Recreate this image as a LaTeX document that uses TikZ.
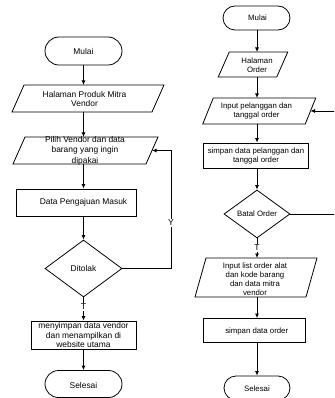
\documentclass[tikz,border=0pt]{standalone}
\usepackage{fontspec}
\setmainfont{Liberation Sans}
\usetikzlibrary{shapes.geometric,arrows.meta,calc}
\newcommand{\paraline}[2]{%
  \draw[shp] ([xshift=#2]#1.north west) -- ([xshift=#2]#1.north east) -- ([xshift=-#2]#1.south east) -- ([xshift=-#2]#1.south west) -- cycle;}
\begin{document}
\begin{tikzpicture}[x=1pt,y=-1pt,
  shp/.style={draw=black, line width=0.8pt},
  term/.style={shp, rectangle, inner sep=0pt},
  boxnode/.style={shp, rectangle, inner sep=0pt},
  para/.style={rectangle, draw=none, inner sep=0pt, outer sep=0pt},
  dec/.style={shp, diamond, inner sep=0pt},
  txtL/.style={font=\fontsize{8.4}{9.8}\selectfont, align=center, inner sep=0pt},
  txtR/.style={font=\fontsize{7.8}{9.0}\selectfont, align=center, inner sep=0pt},
  lbl/.style={fill=white, inner sep=0.8pt, font=\fontsize{8.6}{9}\selectfont},
  arr/.style={line width=0.8pt, -{Latex[length=4.5pt,width=4pt]}},
  ln/.style={line width=0.8pt}]
\useasboundingbox (0,0) rectangle (334,398);
\clip (0,0) rectangle (334,398);
\coordinate (axL) at (83.5,0);
\coordinate (axR) at (257,0);
% ---------- left flowchart ----------
\node[term, minimum width=77pt, minimum height=28pt, rounded corners=14pt] (mulaiL) at (83.5,51) {};
\node[txtL] (mulaiLt) at (mulaiL) {Mulai};
\node[para, minimum width=140pt, minimum height=27pt] (halL) at (88,98.5) {};
\paraline{halL}{6pt}
\node[txtL] (halLt) at (84.5,99) {Halaman Produk Mitra\\Vendor};
\node[para, minimum width=133pt, minimum height=27pt] (pilihL) at (85.5,150.5) {};
\paraline{pilihL}{6pt}
\node[txtL, font=\fontsize{8.4}{10.4}\selectfont] (pilihLt) at (85,150.5) {Pilih Vendor dan data\\barang yang ingin\\dipakai};
\node[boxnode, minimum width=120pt, minimum height=27pt] (dataL) at (76,202.5) {};
\node[txtL] (dataLt) at (83.5,202.5) {Data Pengajuan Masuk};
\node[dec, minimum width=77pt, minimum height=57pt] (tolak) at (83.5,268.5) {};
\node[txtL] (tolakt) at (tolak) {Ditolak};
\node[boxnode, minimum width=105pt, minimum height=28pt] (simpanL) at (83.5,335) {};
\node[txtL] (simpanLt) at (83.5,335) {menyimpan data vendor\\dan menampilkan di\\website utama};
\node[term, minimum width=77pt, minimum height=27pt, rounded corners=13.5pt] (selesaiL) at (83.5,384) {};
\node[txtL] (selesaiLt) at (83.5,385) {Selesai};
% connectors left
\draw[arr] (mulaiL.south -| axL) -- (halL.north -| axL);
\draw[arr] (halL.south -| axL) -- (pilihL.north -| axL);
\draw[arr] (pilihL.south -| axL) -- (dataL.north -| axL);
\draw[arr] (dataL.south -| axL) -- (tolak.north);
\draw[arr] (tolak.south) -- (simpanL.north);
\draw[arr] (simpanL.south) -- (selesaiL.north);
\coordinate (fbL) at (171,268.5);
\draw[arr] (tolak.east) -- (fbL) |- (pilihL.east);
\node[lbl] (yL) at (171,223) {Y};
\node[lbl] (tL) at (83.5,307) {T};
% ---------- right flowchart ----------
\node[term, minimum width=67pt, minimum height=24pt, rounded corners=12pt] (mulaiR) at (256.5,18) {};
\node[txtR] (mulaiRt) at (257.5,18) {Mulai};
\node[para, minimum width=58.5pt, minimum height=25pt] (halR) at (253,64.5) {};
\paraline{halR}{5.5pt}
\node[txtR] (halRt) at (257,65.5) {Halaman\\Order};
\node[para, minimum width=102.5pt, minimum height=26pt] (inR) at (259.25,111) {};
\paraline{inR}{5.25pt}
\node[txtR] (inRt) at (256.5,110.5) {Input pelanggan dan\\tanggal order};
\node[boxnode, minimum width=105pt, minimum height=25pt] (simR) at (255.5,155.5) {};
\node[txtR] (simRt) at (256,156) {simpan data pelanggan dan\\tanggal order};
\node[dec, minimum width=66pt, minimum height=48pt] (batal) at (257,214) {};
\node[txtR] (batalt) at (257,214) {Batal Order};
\node[para, minimum width=111pt, minimum height=39pt] (listR) at (256,277.5) {};
\paraline{listR}{5.5pt}
\node[txtR] (listRt) at (255,279) {Input list order alat\\dan kode barang\\dan data mitra\\vendor};
\node[boxnode, minimum width=102pt, minimum height=24pt] (soR) at (254.2,330.5) {};
\node[txtR] (soRt) at (256.7,331) {simpan data order};
\node[term, minimum width=66pt, minimum height=24pt, rounded corners=12pt] (selR) at (257,388) {};
\node[txtR] (selRt) at (257,389) {Selesai};
% connectors right
\draw[arr] (mulaiR.south -| axR) -- (halR.north -| axR);
\draw[arr] (halR.south -| axR) -- (inR.north -| axR);
\draw[arr] (inR.south -| axR) -- (simR.north -| axR);
\draw[arr] (simR.south -| axR) -- (batal.north);
\draw[arr] (batal.south) -- (listR.north -| axR);
\draw[arr] (listR.south -| axR) -- (soR.north -| axR);
\draw[arr] (soR.south -| axR) -- (selR.north);
\coordinate (fbR) at (345,214);
\draw[arr] (batal.east) -- (fbR) |- (inR.east);
\node[lbl] (tR) at (257,248) {T};
\end{tikzpicture}
\end{document}
